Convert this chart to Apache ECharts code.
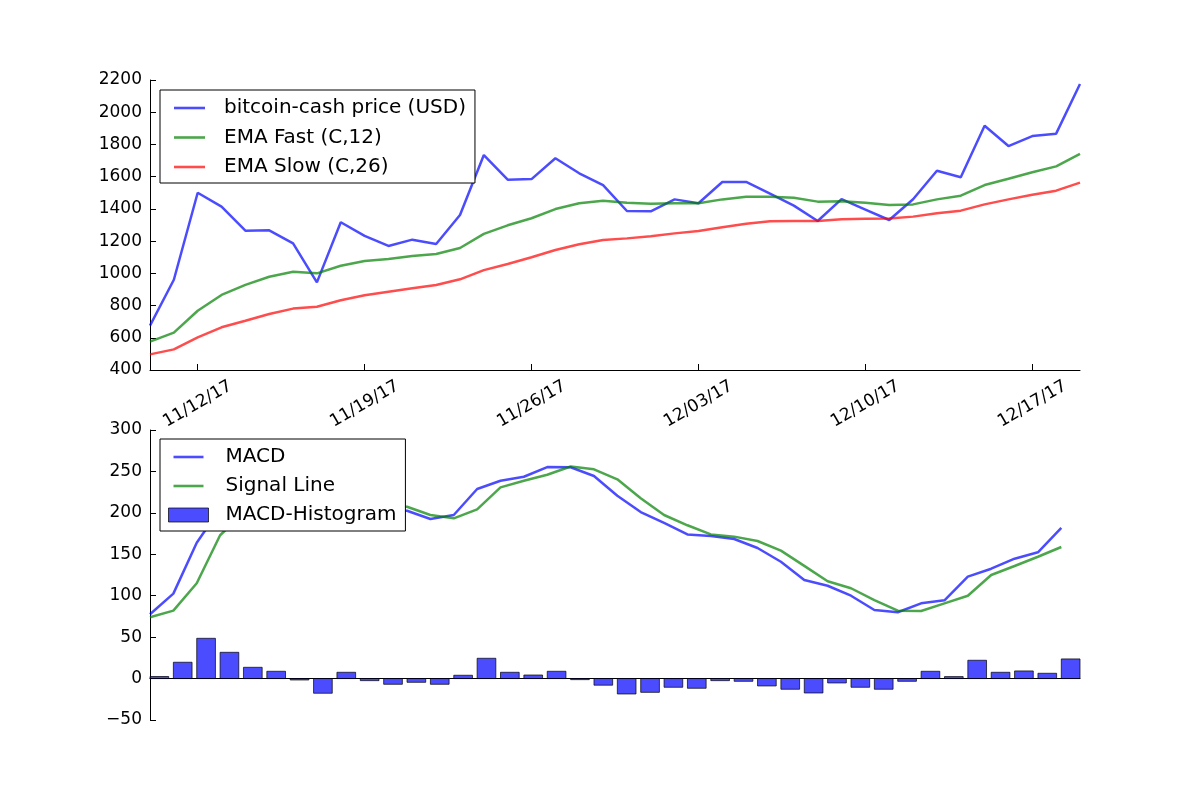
<!DOCTYPE html>
<html>
<head>
<meta charset="utf-8">
<script src="https://cdn.jsdelivr.net/npm/echarts@6/dist/echarts.min.js"></script>
<style>html,body{margin:0;padding:0;background:#fff;}#chart{width:1200px;height:800px;}</style>
</head>
<body>
<div id="chart"></div>
<script>
const dates = ['11/10/17','11/11/17','11/12/17','11/13/17','11/14/17','11/15/17','11/16/17','11/17/17','11/18/17','11/19/17',
  '11/20/17','11/21/17','11/22/17','11/23/17','11/24/17','11/25/17','11/26/17','11/27/17','11/28/17','11/29/17',
  '11/30/17','12/01/17','12/02/17','12/03/17','12/04/17','12/05/17','12/06/17','12/07/17','12/08/17','12/09/17',
  '12/10/17','12/11/17','12/12/17','12/13/17','12/14/17','12/15/17','12/16/17','12/17/17','12/18/17','12/19/17'];
const tickLabels = ['11/12/17','11/19/17','11/26/17','12/03/17','12/10/17','12/17/17'];

const price = [675, 960, 1500, 1414, 1265, 1267, 1186, 944, 1317, 1232, 1170, 1209, 1182, 1362, 1734, 1581, 1585, 1714, 1621, 1548,
  1387, 1385, 1459, 1435, 1567, 1567, 1495, 1420, 1325, 1461, 1396, 1331, 1460, 1637, 1596, 1916, 1790, 1852, 1867, 2175];
const emaFast = [576, 632, 768, 866, 928, 979, 1010, 1000, 1047, 1077, 1089, 1108, 1120, 1157, 1245, 1298, 1342, 1399, 1435, 1451,
  1438, 1432, 1435, 1435, 1459, 1476, 1476, 1469, 1445, 1447, 1438, 1424, 1428, 1459, 1482, 1548, 1587, 1627, 1664, 1741];
const emaSlow = [497, 528, 603, 665, 706, 748, 781, 793, 833, 864, 886, 907, 928, 963, 1020, 1058, 1100, 1145, 1180, 1207,
  1217, 1230, 1248, 1263, 1286, 1308, 1323, 1325, 1325, 1335, 1339, 1341, 1352, 1373, 1389, 1428, 1459, 1488, 1513, 1563];

const macd = [77.6, 102.5, 164, 205, 215, 222, 220, 201, 212, 207, 203, 202.6, 192.6, 197.4, 228.8, 238.8, 243.6, 255.3, 255, 244.5,
  220.7, 201, 188, 174, 172.1, 168.4, 157.6, 141, 119, 112, 100, 82.8, 80, 90.8, 94.4, 123, 132.6, 144.7, 152.4, 182];
const signal = [74, 82, 115, 173, 200, 213, 221, 218, 205, 209, 209, 207.4, 197.4, 193.4, 204.3, 230.8, 238.8, 246, 256, 252.6,
  240.5, 217.6, 197.4, 185, 174, 171.3, 166, 154.4, 136, 117.4, 109, 94.8, 82, 81.6, 90.8, 100, 125, 135.9, 147, 158.8];
const histogram = [2.5, 19.7, 48.6, 31.7, 13.6, 8.8, -1.7, -17.7, 7.6, -2.5, -6.9, -4.5, -6.9, 4, 24.5, 7.6, 4.3, 8.8, -1.3, -8,
  -18.6, -16.6, -10.5, -11.7, -2.5, -3.3, -8.9, -12.9, -17.4, -5.3, -10.5, -12.9, -3.3, 8.8, 2.4, 22.1, 7.6, 9.2, 6.4, 23.7];

const FONT = 'DejaVu Sans';
const BLUE = 'rgba(0,0,255,0.7)', GREEN = 'rgba(0,128,0,0.7)', RED = 'rgba(255,0,0,0.7)';
const EDGE = 'rgba(0,0,0,0.7)';
const pairs = arr => arr.map((v, i) => [i, v]);
const tickIdx = tickLabels.map(l => dates.indexOf(l));
const lineIconTop = 'path://M0,0 L31,0 L31,2.6 L0,2.6 Z';
const lineIconBot = 'path://M0,0 M40,16 M5,6.7 L35,6.7 L35,9.3 L5,9.3 Z';

const axisCommon = {
  axisLine: {show: true, onZero: false, lineStyle: {color: '#000', width: 1}},
  axisTick: {show: true, inside: true, length: 6, lineStyle: {color: '#000', width: 1}},
  axisLabel: {color: '#000', fontFamily: FONT, fontSize: 17, margin: 8},
  splitLine: {show: false}
};

function lineSeries(name, data, color, xi, yi) {
  return {name, type: 'line', xAxisIndex: xi, yAxisIndex: yi, data: pairs(data), showSymbol: false, symbol: 'none',
    lineStyle: {color, width: 2.5}, itemStyle: {color}, animation: false, silent: true};
}

const option = {
  animation: false,
  backgroundColor: '#fff',
  textStyle: {fontFamily: FONT},
  grid: [
    {left: 150, top: 80, width: 930, height: 290},
    {left: 150, top: 430, width: 930, height: 290}
  ],
  xAxis: [
    {type: 'value', gridIndex: 0, min: 0, max: dates.length - 1,
      axisLine: axisCommon.axisLine,
      axisTick: Object.assign({}, axisCommon.axisTick, {customValues: tickIdx}),
      axisLabel: Object.assign({}, axisCommon.axisLabel, {customValues: tickIdx, rotate: 30, align: 'center', verticalAlign: 'middle', margin: 34,
        formatter: v => dates[Math.round(v)]}),
      splitLine: {show: false}},
    {type: 'value', gridIndex: 1, min: 0, max: dates.length - 1 + 0.8,
      axisLine: {show: true, onZero: true, lineStyle: {color: '#000', width: 1}},
      axisTick: {show: false}, axisLabel: {show: false}, splitLine: {show: false}}
  ],
  yAxis: [
    Object.assign({type: 'value', gridIndex: 0, min: 400, max: 2200, interval: 200}, axisCommon,
      {axisLabel: Object.assign({}, axisCommon.axisLabel, {formatter: v => String(v)})}),
    Object.assign({type: 'value', gridIndex: 1, min: -50, max: 300, interval: 50}, axisCommon,
      {axisLabel: Object.assign({}, axisCommon.axisLabel, {formatter: v => v < 0 ? '\u2212' + Math.abs(v) : String(v)})})
  ],
  legend: [
    {orient: 'vertical', left: 160, top: 90, padding: [8, 9, 6, 14], itemWidth: 31, itemHeight: 16, itemGap: 9.5,
      backgroundColor: '#fff', borderColor: '#000', borderWidth: 1, borderRadius: 0, selectedMode: false,
      textStyle: {fontFamily: FONT, fontSize: 20, color: '#000', padding: [0, 0, 0, 14]},
      data: [
        {name: 'bitcoin-cash price (USD)', icon: lineIconTop, itemStyle: {color: BLUE}},
        {name: 'EMA Fast (C,12)', icon: lineIconTop, itemStyle: {color: GREEN}},
        {name: 'EMA Slow (C,26)', icon: lineIconTop, itemStyle: {color: RED}}
      ]},
    {orient: 'vertical', left: 160, top: 439, padding: [8, 9, 6, 8], itemWidth: 40, itemHeight: 16, itemGap: 9,
      backgroundColor: '#fff', borderColor: '#000', borderWidth: 1, borderRadius: 0, selectedMode: false,
      textStyle: {fontFamily: FONT, fontSize: 20, color: '#000', padding: [0, 0, 0, 12]},
      data: [
        {name: 'MACD', icon: lineIconBot, itemStyle: {color: BLUE, borderWidth: 0}},
        {name: 'Signal Line', icon: lineIconBot, itemStyle: {color: GREEN, borderWidth: 0}},
        {name: 'MACD-Histogram', icon: 'path://M0,1 L40,1 L40,15 L0,15 Z', itemStyle: {color: BLUE, borderColor: EDGE, borderWidth: 1}}
      ]}
  ],
  series: [
    lineSeries('bitcoin-cash price (USD)', price, BLUE, 0, 0),
    lineSeries('EMA Fast (C,12)', emaFast, GREEN, 0, 0),
    lineSeries('EMA Slow (C,26)', emaSlow, RED, 0, 0),
    lineSeries('MACD', macd, BLUE, 1, 1),
    lineSeries('Signal Line', signal, GREEN, 1, 1),
    {name: 'MACD-Histogram', type: 'custom', xAxisIndex: 1, yAxisIndex: 1, data: pairs(histogram),
      encode: {x: 0, y: 1}, itemStyle: {color: BLUE}, silent: true,
      renderItem: function (params, api) {
        const i = api.value(0), v = api.value(1);
        const p0 = api.coord([i, 0]);
        const p1 = api.coord([i + 0.8, v]);
        return {type: 'rect',
          shape: {x: p0[0], y: Math.min(p0[1], p1[1]), width: p1[0] - p0[0], height: Math.abs(p1[1] - p0[1])},
          style: {fill: BLUE, stroke: EDGE, lineWidth: 1}};
      }}
  ]
};

const chart = echarts.init(document.getElementById('chart'), null, {renderer: 'canvas'});
chart.setOption(option);
</script>
</body>
</html>
